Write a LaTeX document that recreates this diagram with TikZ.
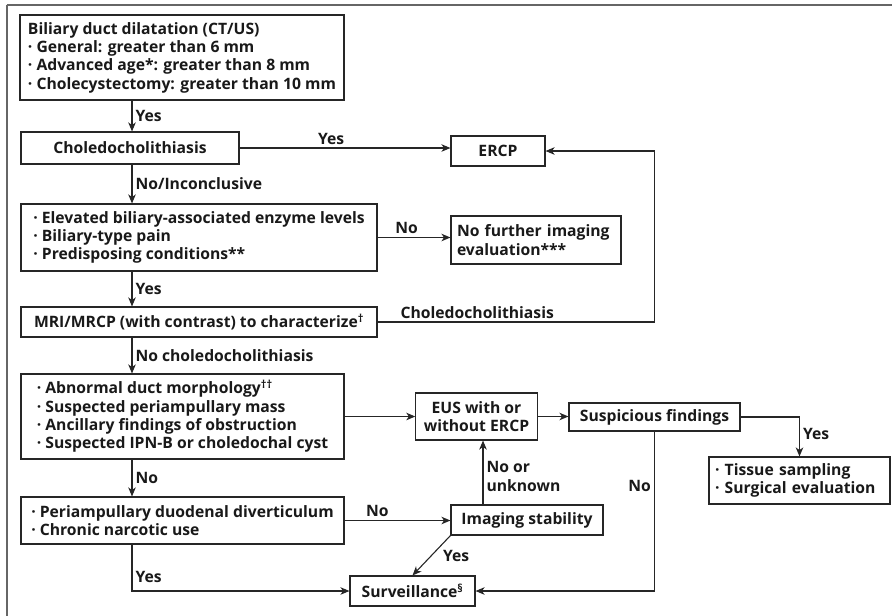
\documentclass[tikz,border=0pt]{standalone}
\usepackage{fontspec}
\setmainfont{Open Sans}
\usepackage{tikz}
\usetikzlibrary{arrows.meta,positioning}
\tikzstyle{critbox} = [draw=black!85, text=black!90, align=left, inner xsep=8pt, inner ysep=0pt, line width=1.1pt, font=\bfseries\fontsize{15.7}{18.3}\selectfont]
\tikzstyle{stepbox} = [critbox, align=center]
\tikzstyle{arrow} = [draw, line width=1.1pt, color=black!85, -{Stealth[length=9pt,width=7.5pt,inset=2.5pt]}]
\tikzstyle{lbl} = [font=\bfseries\fontsize{15.7}{18.3}\selectfont, text=black!90, inner sep=3pt]
\tikzstyle{frame} = [line width=2pt, color=black!60]
\newcommand{\critbox}[4]{node (c#1) [critbox, minimum width=#2, minimum height=#3] {#4}}
\newcommand{\midstep}[4]{node (c#1) [stepbox, minimum width=#2, minimum height=#3] {#4}}
\newcommand{\stepbox}[4]{node (s#1) [stepbox, minimum width=#2, minimum height=#3] {#4}}
\newcommand{\sidebox}[4]{node (s#1) [critbox, inner xsep=6pt, text width=#2, minimum height=#3] {#4}}

\begin{document}
\begin{tikzpicture}[x=1pt,y=-1pt]
\useasboundingbox (0,0) rectangle (892,616);
\draw[frame] (6.5,4.5) -- (892,4.5);
\draw[frame] (6.5,4.5) -- (6.5,616);
\coordinate (spine) at (132,0);

\path (182,57.5) \critbox{1}{322pt}{85pt}{Biliary duct dilatation (CT/US)\\· General: greater than 6 mm\\· Advanced age*: greater than 8 mm\\· Cholecystectomy: greater than 10 mm};
\path (c1)+(-52,90.5) \midstep{2}{218pt}{32pt}{Choledocholithiasis};
\path [arrow] (c1.south -| spine) -- node[lbl,midway,right] {Yes} (c2.north -| spine);
\path (c2)+(69,89.5) \critbox{3}{356pt}{67pt}{· Elevated biliary-associated enzyme levels\\· Biliary-type pain\\· Predisposing conditions**};
\path [arrow] (c2.south -| spine) -- node[lbl,midway,right] {No/Inconclusive} (c3.north -| spine);
\path (c3)+(0,84.5) \critbox{4}{356pt}{30pt}{MRI/MRCP (with contrast) to characterize\textsuperscript{†}};
\path [arrow] (c3.south -| spine) -- node[lbl,midway,right] {Yes} (c4.north -| spine);
\path (c4)+(-16.5,94.5) \critbox{5}{323pt}{85pt}{· Abnormal duct morphology\textsuperscript{††}\\· Suspected periampullary mass\\· Ancillary findings of obstruction\\· Suspected IPN-B or choledochal cyst};
\path [arrow] (c4.south -| spine) -- node[lbl,midway,right] {No choledocholithiasis} (c5.north -| spine);
\path (c5)+(0,104) \critbox{6}{323pt}{47pt}{· Periampullary duodenal diverticulum\\· Chronic narcotic use};
\path [arrow] (c5.south -| spine) -- node[lbl,midway,right] {No} (c6.north -| spine);

\path (c2)+(368,3) \stepbox{1}{94pt}{30pt}{ERCP};
\path [arrow] (c2.east) -- node[lbl,pos=0.434,above] {Yes} (c2.east -| s1.west);
\path (c3)+(337,2.5) \sidebox{2}{158pt}{48pt}{No further imaging\\evaluation***};
\path [arrow] (c3.east) -- node[lbl,pos=0.4,above] {No} (c3.east -| s2.west);
\path (c5)+(294,0) \stepbox{3}{117pt}{47pt}{EUS with or\\without ERCP};
\path [arrow] (c5.east) -- (s3.west);
\path (s3)+(178,0.5) \stepbox{4}{171pt}{28pt}{Suspicious findings};
\path [arrow] (s3.east) -- (s3.east -| s4.west);
\path [arrow] (c4.east) -- node[lbl,pos=0.36,above] {Choledocholithiasis} (c4.east -| s4) |- (s1.east);
\path (s4)+(145,63.5) \sidebox{5}{169pt}{47pt}{· Tissue sampling\\· Surgical evaluation};
\path [arrow] (s4.east) -| node[lbl,pos=0.72,right] {Yes} (s5.north);
\path (c6)+(344.5,-0.5) \stepbox{6}{152pt}{30pt}{Imaging stability};
\path [arrow] (c6.east) -- node[lbl,pos=0.31,above] {No} (c6.east -| s6.west);
\path [arrow] ([xshift=-44pt]s6.north) -- node[lbl,midway,right,align=left,yshift=-4pt] {No or\\unknown} ([xshift=-44pt]s6.north |- s3.south);
\path (s6)+(-114.5,71) \stepbox{7}{125pt}{30pt}{Surveillance\textsuperscript{§}};
\path [arrow] (s6.south west) -- node[lbl,midway,right,xshift=8pt] {Yes} (s7.north);
\path [arrow] (c6.south -| spine) |- node[lbl,pos=0.5,above right,yshift=5pt] {Yes} (s7.west);
\path [arrow] (s4.south) -- node[lbl,pos=0.34,left] {No} (s4.south |- s7.east) -- (s7.east);
\end{tikzpicture}
\end{document}
